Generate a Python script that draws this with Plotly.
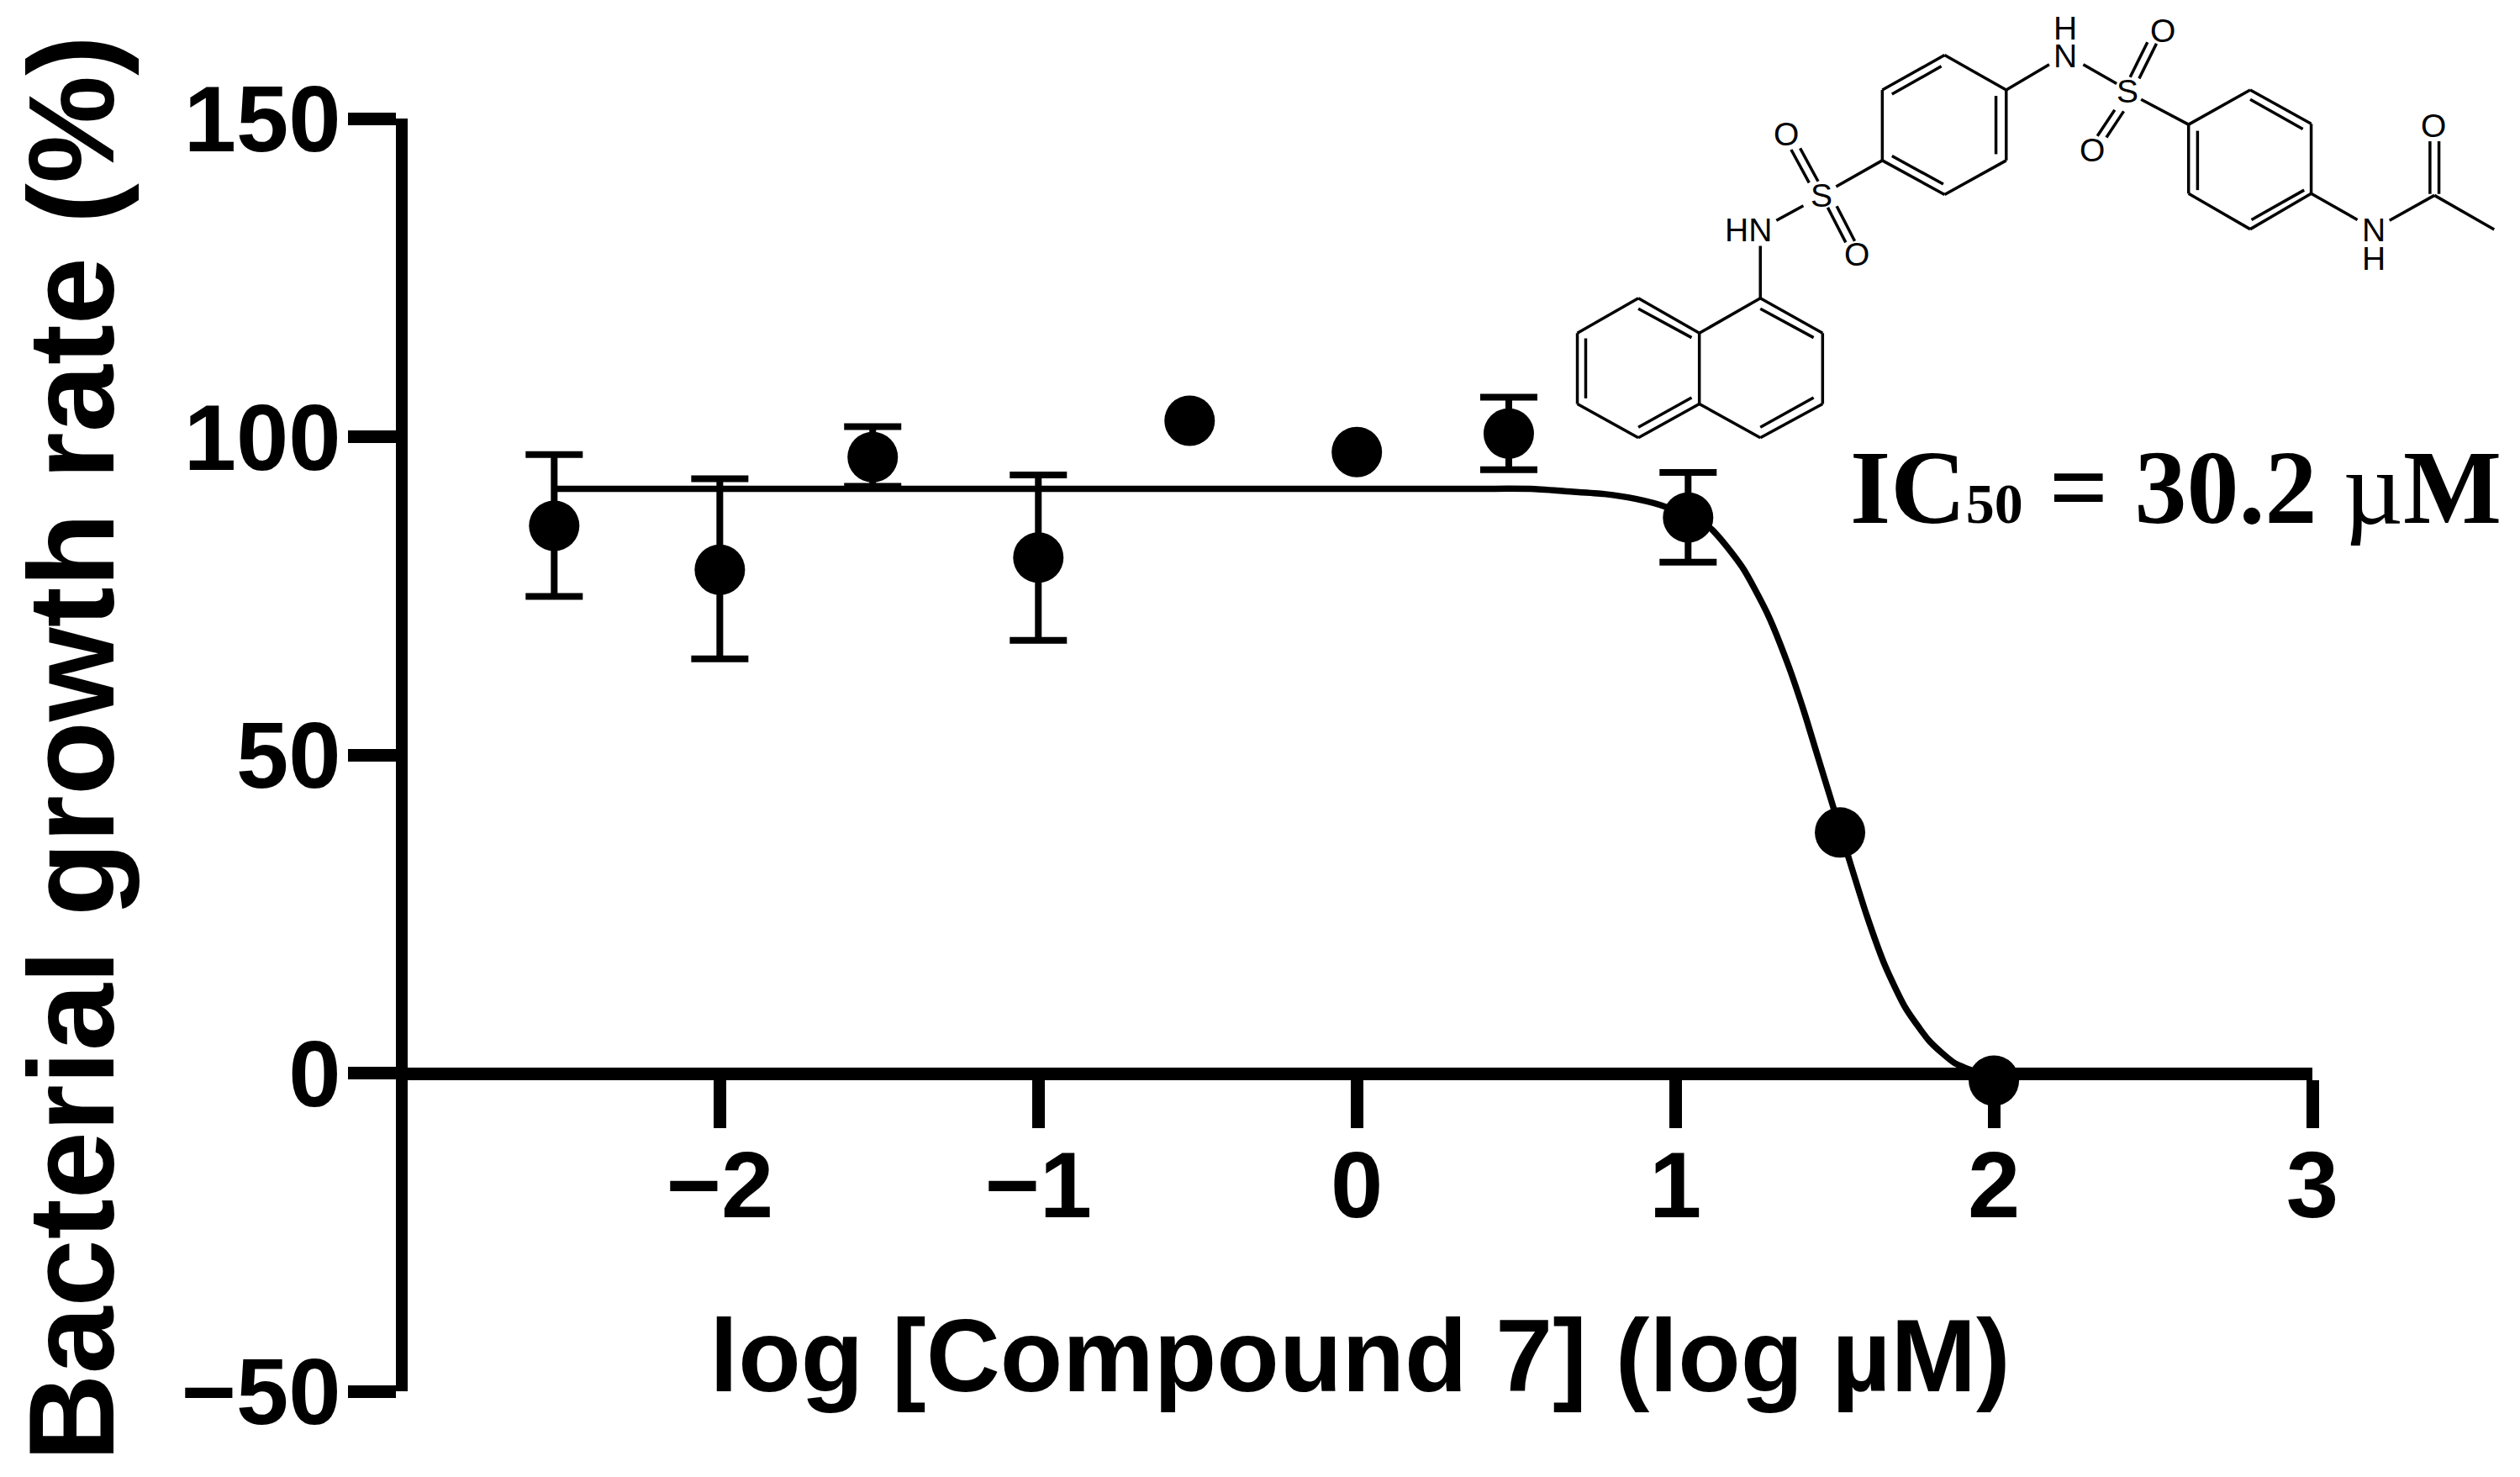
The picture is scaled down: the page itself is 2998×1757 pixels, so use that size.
import plotly.graph_objects as go

W, H = 2998, 1757
# ---- data
log_conc = [-2.52, -2.0, -1.52, -1.0, -0.525, 0.0, 0.477, 1.04, 1.517, 2.0]
growth = [86.0, 79.1, 96.8, 81.0, 102.5, 97.6, 100.5, 87.3, 37.8, -1.2]
err_top = [97.2, 93.4, 101.6, 94.0, None, None, 106.2, 94.4, None, None]
err_bottom = [74.9, 65.1, 92.2, 68.0, None, None, 94.8, 80.3, None, None]

fit_x = [-2.52, -1.5, -0.5, 0.3, 0.546, 0.662, 0.776, 0.878, 0.968, 1.108, 1.21, 1.288,
         1.353, 1.404, 1.44, 1.486, 1.543, 1.60, 1.659, 1.723, 1.80, 1.876, 1.94, 2.0]
fit_y = [91.8, 91.8, 91.8, 91.8, 91.8, 91.4, 91.0, 90.2, 89.0, 85.7, 79.5, 72.3,
         64.3, 56.8, 50.9, 43.4, 34.0, 24.9, 16.8, 10.2, 4.9, 1.6, 0.3, -0.3]

x_ticks = [-2, -1, 0, 1, 2, 3]
x_tick_text = ["\u22122", "\u22121", "0", "1", "2", "3"]
y_ticks = [-50, 0, 50, 100, 150]
y_tick_text = ["\u221250", "0", "50", "100", "150"]

x_title = "log [Compound 7] (log \u00b5M)"
y_title = "Bacterial growth rate (%)"
ic50_text = 'IC<span style="font-size:68px">50</span> = 30.2 <span style="font-weight:400">\u00b5</span>M'

# ---- structure drawing (inset decoration), in crop coordinates of the inset
bonds = [
    # naphthalene
    (385,855,482,955),(482,955,482,1158),(482,1158,385,1255),(385,1255,290,1158),(290,1158,290,955),(290,955,385,855),
    (290,955,195,855),(195,855,100,955),(100,955,100,1158),(100,1158,195,1255),(195,1255,290,1158),
    (385,885,468,968),(468,1140,385,1225),(195,885,278,968),(278,1140,195,1225),(113,970,113,1142),
    # NH and sulfonyl
    (385,705,385,855),(410,632,452,590),(503,535,575,460),
    (447,425,475,520),(433,429,461,524),(490,595,518,695),(504,591,532,691),
    # ring 1
    (672,158,768,258),(768,258,768,460),(768,460,672,558),(672,558,575,460),(575,460,575,258),(575,258,672,158),
    (590,270,667,190),(752,275,752,442),(590,447,670,528),
    # linker
    (768,258,835,185),(888,185,940,240),(978,285,1052,357),
    (975,225,1002,125),(961,221,988,121),(937,315,910,390),(951,319,924,394),
    # ring 2
    (1148,258,1243,355),(1243,355,1243,555),(1243,555,1148,657),(1148,657,1052,555),(1052,555,1052,357),(1052,357,1148,258),
    (1148,285,1230,370),(1066,375,1066,545),(1150,630,1232,545),
    # acetamide
    (1243,555,1315,630),(1365,632,1435,560),(1435,560,1528,658),(1428,405,1428,556),(1442,405,1442,556),
]
atoms = [("HN",367,658),("S",480,560),("O",425,385),("O",535,730),("N",860,160),("H",860,80),
         ("S",957,262),("O",1012,88),("O",902,430),("N",1340,660),("H",1340,740),("O",1433,360)]

def px(zx): return 1800 + zx / 1.309
def py(zy): return zy / 2.41

L, T = 484.6, 141
R = W - 2751
B = H - 1655
pw, ph = W - L - R, H - T - B
def pap_x(v): return (v - L) / pw
def pap_y(v): return 1 - (v - T) / ph

SANS = "Liberation Sans"
BLACK = "#000000"

fig = go.Figure()
fig.add_trace(go.Scatter(x=fit_x, y=fit_y, mode="lines", line=dict(color=BLACK, width=7.5, shape="spline", smoothing=0.6),
                         cliponaxis=False, showlegend=False))
# points with visible error bars
idx = [i for i, t in enumerate(err_top) if t is not None]
fig.add_trace(go.Scatter(
    x=[log_conc[i] for i in idx], y=[growth[i] for i in idx], mode="markers", cliponaxis=False, showlegend=False,
    marker=dict(color=BLACK, size=60, line=dict(width=0)),
    error_y=dict(type="data", symmetric=False,
                 array=[err_top[i] - growth[i] for i in idx],
                 arrayminus=[growth[i] - err_bottom[i] for i in idx],
                 color=BLACK, thickness=8, width=34),
))
# points whose error bars are hidden behind the marker
idx0 = [i for i, t in enumerate(err_top) if t is None]
fig.add_trace(go.Scatter(
    x=[log_conc[i] for i in idx0], y=[growth[i] for i in idx0], mode="markers", cliponaxis=False, showlegend=False,
    marker=dict(color=BLACK, size=60, line=dict(width=0)),
))

shapes = []
for x0, y0, x1, y1 in bonds:
    shapes.append(dict(type="line", xref="paper", yref="paper",
                       x0=pap_x(px(x0)), y0=pap_y(py(y0)), x1=pap_x(px(x1)), y1=pap_y(py(y1)),
                       line=dict(color=BLACK, width=3.5)))

annotations = []
for label, zx, zy in atoms:
    annotations.append(dict(text=label, xref="paper", yref="paper", x=pap_x(px(zx)), y=pap_y(py(zy)),
                            xanchor="center", yanchor="middle", showarrow=False,
                            font=dict(family=SANS, size=39, color=BLACK)))
annotations.append(dict(text=ic50_text, xref="paper", yref="paper", x=pap_x(2978), y=pap_y(580),
                        xanchor="right", yanchor="middle", showarrow=False,
                        font=dict(family="Liberation Serif", size=124, color=BLACK, weight=700)))
annotations.append(dict(text=y_title, xref="paper", yref="paper", x=pap_x(85), y=pap_y(890),
                        xanchor="center", yanchor="middle", textangle=-90, showarrow=False,
                        font=dict(family=SANS, size=144, color=BLACK, weight=700)))

fig.update_layout(
    width=W, height=H, margin=dict(l=L, r=R, t=T, b=B, autoexpand=False),
    paper_bgcolor="white", plot_bgcolor="white", showlegend=False, hovermode=False,
    shapes=shapes, annotations=annotations,
    xaxis=dict(range=[-2.98, 3], anchor="free", position=0.25, showgrid=False, zeroline=False,
               showline=True, linecolor=BLACK, linewidth=15,
               tickmode="array", tickvals=x_ticks, ticktext=x_tick_text,
               ticks="outside", ticklen=57, tickwidth=15, tickcolor=BLACK, ticklabelstandoff=-28,
               tickfont=dict(family=SANS, size=112, color=BLACK, weight=700),
               title=dict(text=x_title, standoff=98, font=dict(family=SANS, size=122, color=BLACK, weight=700))),
    yaxis=dict(range=[-50, 150], showgrid=False, zeroline=False,
               showline=True, linecolor=BLACK, linewidth=14,
               tickmode="array", tickvals=y_ticks, ticktext=y_tick_text,
               ticks="outside", ticklen=57, tickwidth=15, tickcolor=BLACK, ticklabelstandoff=-14,
               tickfont=dict(family=SANS, size=112, color=BLACK, weight=700)),
)
fig.write_html("out.html", config=dict(responsive=False, displayModeBar=False),
               post_script="document.body.style.margin='0';document.body.style.overflow='hidden';")
